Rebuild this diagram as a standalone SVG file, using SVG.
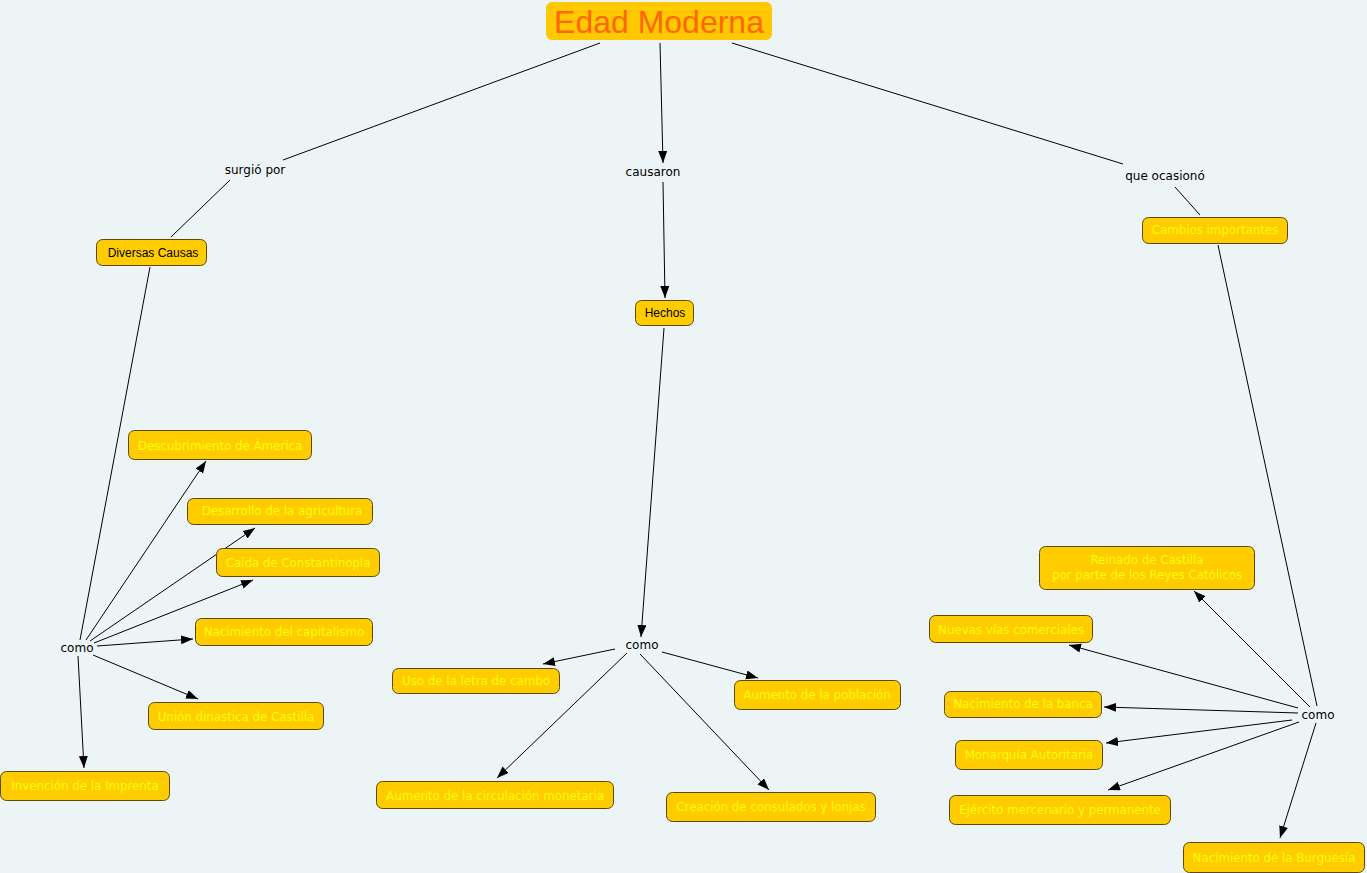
<svg xmlns="http://www.w3.org/2000/svg" width="1367" height="873" viewBox="0 0 1367 873">
<style>
.bg{fill:#edf4f6}
.n{fill:#ffcc00;stroke:#5a4a10;stroke-width:1}
.t{font-family:"DejaVu Sans",Verdana,sans-serif;font-size:11.8px;fill:#ffff00;text-anchor:middle}
.tb{font-family:"Liberation Sans",Arial,sans-serif;font-size:12px;fill:#000;text-anchor:middle}
.l{font-family:"DejaVu Sans",Verdana,sans-serif;font-size:12px;fill:#000;text-anchor:middle}
.c line{stroke:#000;stroke-width:1}
.a{marker-end:url(#ah)}
</style>
<defs>
<marker id="ah" markerUnits="userSpaceOnUse" markerWidth="13" markerHeight="10" refX="12" refY="4.5" orient="auto">
<path d="M0,0 L12,4.5 L0,9 z" fill="#000"/>
</marker>
</defs>
<rect class="bg" x="0" y="0" width="1367" height="873"/>
<g class="c" id="connectors">
<line x1="600" y1="43" x2="283" y2="160"/>
<line x1="230" y1="180" x2="171" y2="237"/>
<line class="a" x1="660" y1="43" x2="663" y2="163"/>
<line class="a" x1="663" y1="182" x2="665" y2="298"/>
<line x1="732" y1="43" x2="1123" y2="164"/>
<line x1="1175" y1="187" x2="1200" y2="215"/>
<line x1="150" y1="267" x2="80" y2="640"/>
<line class="a" x1="86" y1="640" x2="206" y2="461"/>
<line class="a" x1="90" y1="641" x2="255" y2="528"/>
<line class="a" x1="94" y1="643" x2="253" y2="580"/>
<line class="a" x1="97" y1="646" x2="193" y2="639"/>
<line class="a" x1="93" y1="655" x2="198" y2="699"/>
<line class="a" x1="78" y1="656" x2="84" y2="768"/>
<line class="a" x1="664" y1="328" x2="641" y2="637"/>
<line class="a" x1="615" y1="649" x2="543" y2="664"/>
<line class="a" x1="662" y1="652" x2="758" y2="678"/>
<line class="a" x1="627" y1="653" x2="497" y2="778"/>
<line class="a" x1="640" y1="654" x2="769" y2="790"/>
<line x1="1218" y1="245" x2="1317" y2="706"/>
<line class="a" x1="1310" y1="707" x2="1194" y2="591"/>
<line class="a" x1="1298" y1="708" x2="1069" y2="645"/>
<line class="a" x1="1298" y1="713" x2="1104" y2="707"/>
<line class="a" x1="1292" y1="720" x2="1106" y2="743"/>
<line class="a" x1="1299" y1="722" x2="1108" y2="790"/>
<line class="a" x1="1316" y1="723" x2="1280" y2="838"/>
</g>
<g id="edad-moderna">
<rect x="546" y="2" width="226" height="38" rx="6" fill="#ffc800"/>
<text x="659" y="33" font-family="Liberation Sans,Arial,sans-serif" font-size="32" fill="#ff6600" text-anchor="middle">Edad Moderna</text>
</g>
<g id="lbl-surgio"><text class="l" x="255" y="174">surgió por</text></g>
<g id="lbl-causaron"><text class="l" x="653" y="176">causaron</text></g>
<g id="lbl-ocasiono"><text class="l" x="1165" y="180">que ocasionó</text></g>
<g id="diversas-causas">
<rect class="n" x="96.5" y="239.5" width="110" height="26" rx="6"/>
<text class="tb" x="153" y="257">Diversas Causas</text>
</g>
<g id="hechos">
<rect class="n" x="635.5" y="300.5" width="58" height="25" rx="6"/>
<text class="tb" x="665" y="317">Hechos</text>
</g>
<g id="cambios">
<rect class="n" x="1142.5" y="217.5" width="145" height="26" rx="6"/>
<text class="t" x="1215" y="234">Cambios importantes</text>
</g>
<g id="como-1"><text class="l" x="77" y="652">como</text></g>
<g id="como-2"><text class="l" x="642" y="649">como</text></g>
<g id="como-3"><text class="l" x="1318" y="719">como</text></g>
<g id="descubrimiento">
<rect class="n" x="128.5" y="430.5" width="183" height="29" rx="6"/>
<text class="t" x="220" y="450">Descubrimiento de Ámerica</text>
</g>
<g id="desarrollo">
<rect class="n" x="187.5" y="498.5" width="185" height="26" rx="6"/>
<text class="t" x="282" y="515">Desarrollo de la agricultura</text>
</g>
<g id="caida">
<rect class="n" x="216.5" y="548.5" width="163" height="28" rx="6"/>
<text class="t" x="298" y="567">Caída de Constantinopla</text>
</g>
<g id="capitalismo">
<rect class="n" x="195.5" y="618.5" width="177" height="27" rx="6"/>
<text class="t" x="284" y="636">Nacimiento del capitalismo</text>
</g>
<g id="union">
<rect class="n" x="148.5" y="702.5" width="175" height="27" rx="6"/>
<text class="t" x="236" y="721">Unión dinastica de Castilla</text>
</g>
<g id="imprenta">
<rect class="n" x="0.5" y="771.5" width="169" height="29" rx="6"/>
<text class="t" x="85" y="790">Invención de la Imprenta</text>
</g>
<g id="letra-cambio">
<rect class="n" x="392.5" y="668.5" width="167" height="25" rx="6"/>
<text class="t" x="476" y="685">Uso de la letra de cambo</text>
</g>
<g id="poblacion">
<rect class="n" x="734.5" y="680.5" width="166" height="29" rx="6"/>
<text class="t" x="817" y="699">Aumento de la población</text>
</g>
<g id="circulacion">
<rect class="n" x="376.5" y="781.5" width="237" height="27" rx="6"/>
<text class="t" x="495" y="800">Aumento de la circulación monetaria</text>
</g>
<g id="consulados">
<rect class="n" x="666.5" y="792.5" width="209" height="29" rx="6"/>
<text class="t" x="771" y="811">Creación de consulados y lonjas</text>
</g>
<g id="reinado">
<rect class="n" x="1039.5" y="546.5" width="215" height="43" rx="6"/>
<text class="t" x="1147" y="564">Reinado de Castilla</text>
<text class="t" x="1147" y="579">por parte de los Reyes Católicos</text>
</g>
<g id="nuevas-vias">
<rect class="n" x="929.5" y="615.5" width="163" height="27" rx="6"/>
<text class="t" x="1011" y="634">Nuevas vías comerciales</text>
</g>
<g id="banca">
<rect class="n" x="944.5" y="691.5" width="157" height="26" rx="6"/>
<text class="t" x="1023" y="708">Nacimiento de la banca</text>
</g>
<g id="monarquia">
<rect class="n" x="955.5" y="740.5" width="147" height="29" rx="6"/>
<text class="t" x="1029" y="759">Monarquía Autoritaria</text>
</g>
<g id="ejercito">
<rect class="n" x="949.5" y="795.5" width="221" height="29" rx="6"/>
<text class="t" x="1060" y="814">Ejército mercenario y permanente</text>
</g>
<g id="burguesia">
<rect class="n" x="1183.5" y="842.5" width="181" height="30" rx="6"/>
<text class="t" x="1274" y="862">Nacimiento de la Burguesía</text>
</g>
</svg>
